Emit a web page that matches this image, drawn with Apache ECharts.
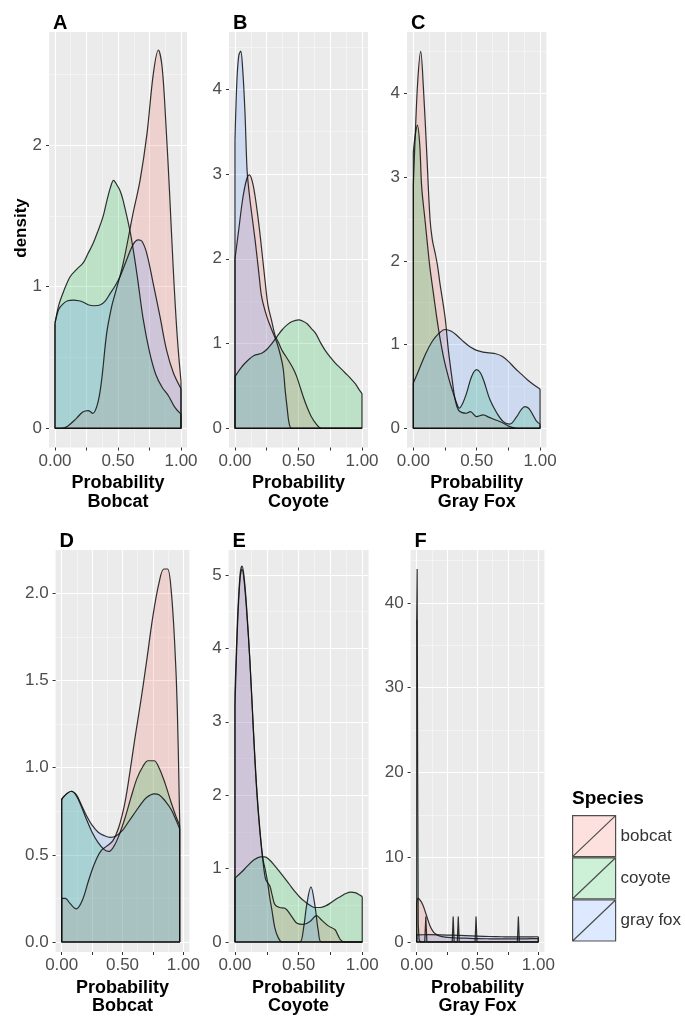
<!DOCTYPE html>
<html>
<head>
<meta charset="utf-8">
<script src="https://cdn.jsdelivr.net/npm/echarts@6/dist/echarts.min.js"></script>
<style>
html,body{margin:0;padding:0;background:#fff;}
#chart{width:685px;height:1032px;}
</style>
</head>
<body>
<div id="chart"></div>
<script>
// ---------- data ----------
const species = ['bobcat', 'coyote', 'gray fox'];

// Panel A : Probability Bobcat
const aBobcat = [[0,0],[0.05,0],[0.1,0.015],[0.17,0.07],[0.22,0.115],[0.265,0.125],[0.3,0.105],[0.34,0.18],[0.37,0.34],[0.41,0.67],[0.45,0.86],[0.48,0.96],[0.54,1.16],[0.62,1.52],[0.675,1.75],[0.73,2.08],[0.78,2.5],[0.82,2.67],[0.85,2.55],[0.88,2.15],[0.91,1.65],[0.94,1.1],[0.97,0.65],[1,0.33]];
const aCoyote = [[0,0.74],[0.03,0.87],[0.07,0.97],[0.12,1.07],[0.17,1.12],[0.225,1.17],[0.26,1.23],[0.3,1.3],[0.34,1.39],[0.38,1.49],[0.41,1.6],[0.44,1.7],[0.465,1.75],[0.49,1.72],[0.515,1.68],[0.54,1.61],[0.6,1.37],[0.65,1.09],[0.7,0.77],[0.75,0.54],[0.8,0.38],[0.85,0.29],[0.9,0.23],[0.95,0.15],[1,0.1]];
const aGrayFox = [[0,0.74],[0.03,0.84],[0.066,0.88],[0.1,0.9],[0.146,0.905],[0.19,0.9],[0.225,0.89],[0.27,0.87],[0.31,0.865],[0.357,0.87],[0.4,0.9],[0.437,0.95],[0.48,1.01],[0.516,1.07],[0.569,1.19],[0.622,1.3],[0.66,1.33],[0.69,1.32],[0.728,1.235],[0.78,1.02],[0.833,0.79],[0.886,0.55],[0.94,0.39],[1,0.28]];

// Panel B : Probability Coyote
const bBobcat = [[0,2.0],[0.03,2.35],[0.06,2.7],[0.09,2.93],[0.113,2.99],[0.135,2.92],[0.157,2.75],[0.18,2.5],[0.2,2.25],[0.236,1.75],[0.26,1.45],[0.29,1.26],[0.315,1.1],[0.34,1.02],[0.37,0.92],[0.4,0.85],[0.433,0.77],[0.46,0.7],[0.486,0.61],[0.51,0.5],[0.538,0.37],[0.57,0.24],[0.6,0.14],[0.64,0.05],[0.68,0],[0.75,0],[0.85,0],[1,0]];
const bCoyote = [[0,0.61],[0.05,0.72],[0.1,0.8],[0.15,0.86],[0.21,0.885],[0.25,0.93],[0.29,1.0],[0.33,1.08],[0.37,1.16],[0.41,1.22],[0.45,1.26],[0.5,1.28],[0.54,1.26],[0.57,1.23],[0.6,1.18],[0.635,1.12],[0.67,1.02],[0.71,0.92],[0.75,0.84],[0.79,0.77],[0.83,0.71],[0.87,0.65],[0.91,0.59],[0.95,0.52],[0.98,0.45],[1,0.41]];
const bGrayFox = [[0,3.4],[0.015,4.1],[0.03,4.4],[0.045,4.45],[0.06,4.25],[0.078,3.75],[0.095,3.05],[0.11,2.8],[0.13,2.55],[0.16,2.2],[0.19,1.8],[0.21,1.55],[0.25,1.32],[0.29,1.16],[0.33,1.01],[0.36,0.85],[0.38,0.7],[0.395,0.45],[0.41,0.25],[0.425,0.07],[0.445,0],[0.5,0],[0.6,0],[0.7,0],[0.8,0],[0.9,0],[1,0]];

// Panel C : Probability Gray Fox
const cBobcat = [[0,2.9],[0.015,3.5],[0.035,4.15],[0.058,4.5],[0.079,4.08],[0.106,3.28],[0.132,2.49],[0.15,2.25],[0.171,2.1],[0.19,1.95],[0.21,1.73],[0.25,1.33],[0.276,0.94],[0.303,0.62],[0.33,0.34],[0.355,0.22],[0.38,0.19],[0.42,0.18],[0.45,0.2],[0.5,0.14],[0.55,0.16],[0.6,0.13],[0.65,0.1],[0.7,0.07],[0.76,0.02],[0.82,0],[0.9,0],[1,0]];
const cCoyote = [[0,3.3],[0.015,3.5],[0.032,3.62],[0.05,3.4],[0.066,2.88],[0.092,2.49],[0.13,1.93],[0.155,1.65],[0.184,1.33],[0.21,1.08],[0.237,0.86],[0.265,0.68],[0.29,0.54],[0.315,0.42],[0.342,0.3],[0.363,0.24],[0.39,0.3],[0.42,0.42],[0.46,0.62],[0.5,0.7],[0.53,0.66],[0.56,0.55],[0.605,0.34],[0.66,0.18],[0.71,0.08],[0.76,0.05],[0.816,0.14],[0.85,0.22],[0.88,0.26],[0.91,0.24],[0.94,0.17],[0.97,0.09],[1,0.05]];
const cGrayFox = [[0,0.54],[0.05,0.72],[0.1,0.9],[0.15,1.04],[0.2,1.13],[0.25,1.18],[0.3,1.16],[0.35,1.1],[0.4,1.03],[0.45,0.97],[0.5,0.93],[0.55,0.91],[0.6,0.9],[0.65,0.89],[0.7,0.86],[0.75,0.8],[0.8,0.72],[0.85,0.65],[0.9,0.58],[0.95,0.52],[1,0.47]];

// Panel D : Probability Bobcat
const dBobcat = [[0,0.25],[0.03,0.25],[0.07,0.22],[0.12,0.19],[0.17,0.24],[0.22,0.35],[0.27,0.45],[0.32,0.52],[0.37,0.55],[0.42,0.58],[0.47,0.66],[0.52,0.8],[0.56,0.97],[0.6,1.16],[0.65,1.38],[0.7,1.62],[0.75,1.87],[0.8,2.06],[0.84,2.14],[0.87,2.14],[0.9,2.02],[0.93,1.7],[0.95,1.35],[0.97,0.7]];
const dCoyote = [[0,0.82],[0.04,0.85],[0.08,0.865],[0.12,0.84],[0.16,0.78],[0.2,0.71],[0.25,0.63],[0.3,0.57],[0.35,0.53],[0.39,0.52],[0.43,0.55],[0.47,0.61],[0.52,0.71],[0.57,0.83],[0.62,0.94],[0.67,1.01],[0.71,1.04],[0.76,1.04],[0.8,1.0],[0.85,0.91],[0.9,0.8],[0.94,0.72],[0.97,0.67]];
const dGrayFox = [[0,0.82],[0.04,0.85],[0.08,0.865],[0.12,0.845],[0.16,0.79],[0.2,0.73],[0.25,0.67],[0.3,0.63],[0.35,0.61],[0.4,0.6],[0.45,0.61],[0.5,0.64],[0.55,0.69],[0.6,0.74],[0.65,0.79],[0.7,0.83],[0.76,0.85],[0.8,0.845],[0.85,0.81],[0.9,0.76],[0.94,0.7],[0.97,0.65]];

// Panel E : Probability Coyote
const eBobcat = [[0,3.2],[0.02,4.3],[0.04,4.95],[0.055,5.08],[0.07,4.95],[0.09,4.55],[0.118,3.8],[0.144,2.9],[0.17,2.08],[0.196,1.5],[0.22,1.1],[0.24,0.86],[0.26,0.8],[0.275,0.76],[0.295,0.62],[0.314,0.51],[0.35,0.47],[0.393,0.46],[0.445,0.35],[0.484,0.26],[0.537,0.24],[0.589,0.28],[0.64,0.36],[0.68,0.3],[0.733,0.22],[0.785,0.17],[0.81,0.09],[0.83,0.03],[0.86,0],[0.93,0],[1,0]];
const eCoyote = [[0,0.87],[0.05,0.95],[0.1,1.04],[0.15,1.12],[0.2,1.16],[0.235,1.16],[0.27,1.12],[0.31,1.045],[0.35,0.96],[0.39,0.87],[0.43,0.78],[0.47,0.69],[0.51,0.61],[0.55,0.55],[0.59,0.5],[0.63,0.47],[0.67,0.47],[0.71,0.49],[0.75,0.53],[0.79,0.58],[0.83,0.62],[0.87,0.66],[0.91,0.68],[0.95,0.67],[0.98,0.64],[1,0.62]];
const eGrayFox = [[0,3.4],[0.02,4.4],[0.04,5.0],[0.055,5.12],[0.07,5.0],[0.09,4.6],[0.118,3.82],[0.144,2.93],[0.17,2.12],[0.196,1.53],[0.22,1.13],[0.24,0.97],[0.256,0.82],[0.272,0.62],[0.288,0.46],[0.314,0.19],[0.34,0.06],[0.37,0],[0.45,0],[0.51,0],[0.54,0.2],[0.563,0.5],[0.597,0.75],[0.628,0.5],[0.655,0.15],[0.68,0],[0.8,0],[1,0]];

// Panel F : Probability Gray Fox
const fBobcat = [[0,4.6],[0.012,5.15],[0.03,4.9],[0.05,4.4],[0.07,3.6],[0.09,2.7],[0.11,1.9],[0.13,1.35],[0.15,1.0],[0.18,0.75],[0.22,0.6],[0.3,0.5],[0.4,0.45],[0.5,0.4],[0.6,0.38],[0.7,0.37],[0.8,0.37],[0.9,0.38],[1,0.4]];
const fCoyote = [[0,38],[0.004,44],[0.008,20],[0.013,2],[0.02,0.3],[0.03,0],[0.066,0],[0.075,3.0],[0.084,0],[0.292,0],[0.3,3.0],[0.308,0],[0.334,0],[0.342,3.0],[0.35,0],[0.48,0],[0.488,3.0],[0.496,0],[0.828,0],[0.836,3.0],[0.844,0],[1,0]];
const fGrayFox = [[0,0.85],[0.1,0.86],[0.2,0.84],[0.3,0.8],[0.4,0.75],[0.5,0.7],[0.6,0.65],[0.7,0.62],[0.8,0.6],[0.9,0.6],[1,0.62]];

// tick values / labels
const xTicks = [0, 0.25, 0.5, 0.75, 1];
const xLabels = [0, 0.5, 1];
const xMinor = [0.125, 0.375, 0.625, 0.875];
const yTicksA = [0, 1, 2];           const yMinorA = [0.5, 1.5, 2.5];
const yTicksB = [0, 1, 2, 3, 4];     const yMinorB = [0.5, 1.5, 2.5, 3.5, 4.5];
const yTicksC = [0, 1, 2, 3, 4];     const yMinorC = [0.5, 1.5, 2.5, 3.5, 4.5];
const yTicksD = [0, 0.5, 1, 1.5, 2]; const yMinorD = [0.25, 0.75, 1.25, 1.75];
const yTicksE = [0, 1, 2, 3, 4, 5];  const yMinorE = [0.5, 1.5, 2.5, 3.5, 4.5];
const yTicksF = [0, 10, 20, 30, 40]; const yMinorF = [5, 15, 25, 35, 45];
const panelLetters = ['A', 'B', 'C', 'D', 'E', 'F'];
const xTitles = ['Probability\nBobcat', 'Probability\nCoyote', 'Probability\nGray Fox',
                 'Probability\nBobcat', 'Probability\nCoyote', 'Probability\nGray Fox'];

// ---------- layout & style ----------
const FONT = "'Liberation Sans', Arial, Helvetica, sans-serif";
const fills = { 'bobcat': 'rgba(248,118,109,0.22)', 'coyote': 'rgba(0,186,56,0.2)', 'gray fox': 'rgba(97,156,255,0.22)' };
const OUTLINE = 'rgba(15,15,15,0.85)';

const panels = [
  { curves: [aBobcat, aCoyote, aGrayFox], yTicks: yTicksA, yMinor: yMinorA, dec: 0,
    grid: { left: 49, top: 32, width: 138, height: 415.5 }, x: [-0.0476, 1.0476], y: [-0.1355, 2.797] },
  { curves: [bBobcat, bCoyote, bGrayFox], yTicks: yTicksB, yMinor: yMinorB, dec: 0,
    grid: { left: 229, top: 32, width: 139, height: 415.5 }, x: [-0.0472, 1.0472], y: [-0.2265, 4.676] },
  { curves: [cBobcat, cCoyote, cGrayFox], yTicks: yTicksC, yMinor: yMinorC, dec: 0,
    grid: { left: 407, top: 32, width: 139.4, height: 415.5 }, x: [-0.05, 1.05], y: [-0.229, 4.732] },
  { curves: [dBobcat, dCoyote, dGrayFox], yTicks: yTicksD, yMinor: yMinorD, dec: 1,
    grid: { left: 55.6, top: 550, width: 133.8, height: 402 }, x: [-0.05, 1.05], y: [-0.0574, 2.249] },
  { curves: [eBobcat, eCoyote, eGrayFox], yTicks: yTicksE, yMinor: yMinorE, dec: 0,
    grid: { left: 228.6, top: 550, width: 140, height: 402 }, x: [-0.05, 1.05], y: [-0.136, 5.34] },
  { curves: [fBobcat, fCoyote, fGrayFox], yTicks: yTicksF, yMinor: yMinorF, dec: 0, sharp: [false, true, false],
    grid: { left: 410.6, top: 550, width: 133.8, height: 402 }, x: [-0.05, 1.05], y: [-1.18, 46.25] }
];

const grids = [], xAxes = [], yAxes = [], series = [], graphics = [];

panels.forEach((p, i) => {
  grids.push(Object.assign({ show: true, backgroundColor: '#EBEBEB', borderWidth: 0 }, p.grid));
  const major = xAxes.length;
  xAxes.push({
    type: 'value', gridIndex: i, min: p.x[0], max: p.x[1], position: 'bottom',
    axisLine: { show: false, onZero: false },
    axisTick: { show: true, customValues: xTicks, length: 3, lineStyle: { color: '#333', width: 1 } },
    axisLabel: { show: true, customValues: xLabels, formatter: v => Number(v).toFixed(2),
                 color: '#4D4D4D', fontSize: 17, fontFamily: FONT, margin: 5 },
    splitLine: { show: true, lineStyle: { color: '#FFFFFF', width: 1.1 } },
    name: xTitles[i], nameLocation: 'middle', nameGap: 26.5,
    nameTextStyle: { fontSize: 18, fontWeight: 'bold', color: '#000', fontFamily: FONT, lineHeight: 18.5, verticalAlign: 'top' }
  });
  xAxes.push({
    type: 'value', gridIndex: i, min: p.x[0], max: p.x[1], position: 'top',
    axisLine: { show: false, onZero: false }, axisLabel: { show: false },
    axisTick: { show: false, customValues: xMinor },
    splitLine: { show: true, lineStyle: { color: '#FFFFFF', width: 0.5, opacity: 0.8 } }
  });
  const ymajor = yAxes.length;
  yAxes.push({
    type: 'value', gridIndex: i, min: p.y[0], max: p.y[1], position: 'left',
    axisLine: { show: false, onZero: false },
    axisTick: { show: true, customValues: p.yTicks, length: 3, lineStyle: { color: '#333', width: 1 } },
    axisLabel: { show: true, customValues: p.yTicks, formatter: v => Number(v).toFixed(p.dec),
                 color: '#4D4D4D', fontSize: 17, fontFamily: FONT, margin: 7 },
    splitLine: { show: true, lineStyle: { color: '#FFFFFF', width: 1.1 } }
  });
  yAxes.push({
    type: 'value', gridIndex: i, min: p.y[0], max: p.y[1], position: 'right',
    axisLine: { show: false, onZero: false }, axisLabel: { show: false },
    axisTick: { show: false, customValues: p.yMinor },
    splitLine: { show: true, lineStyle: { color: '#FFFFFF', width: 0.5, opacity: 0.8 } }
  });

  p.curves.forEach((c, k) => {
    const sp = species[k];
    const sharp = p.sharp && p.sharp[k];
    series.push({
      type: 'line', name: sp, xAxisIndex: major, yAxisIndex: ymajor,
      data: c, smooth: sharp ? false : 0.35, symbol: 'none', silent: true, animation: false,
      lineStyle: { color: OUTLINE, width: 1.2 },
      itemStyle: { color: fills[sp] },
      areaStyle: { color: fills[sp], opacity: 1 },
      z: 3
    });
    const first = c[0], last = c[c.length - 1];
    series.push({
      type: 'line', name: sp + ' outline', xAxisIndex: major, yAxisIndex: ymajor,
      data: [[first[0], first[1]], [first[0], 0], [last[0], 0], [last[0], last[1]]],
      smooth: false, symbol: 'none', silent: true, animation: false,
      lineStyle: { color: OUTLINE, width: 1.2 }, z: 4
    });
  });

  graphics.push({
    type: 'text', left: p.grid.left + 4, top: p.grid.top - 19,
    style: { text: panelLetters[i], font: 'bold 20px ' + FONT, fill: '#000' }
  });
});

graphics.push({
  type: 'text', x: 21, y: 228, rotation: Math.PI / 2,
  style: { text: 'density', font: 'bold 17px ' + FONT, fill: '#000', textAlign: 'center', textVerticalAlign: 'middle' }
});
graphics.push({
  type: 'text', left: 572, top: 789,
  style: { text: 'Species', font: 'bold 19px ' + FONT, fill: '#000' }
});

const chart = echarts.init(document.getElementById('chart'), null, { renderer: 'canvas' });
chart.setOption({
  animation: false,
  backgroundColor: '#FFFFFF',
  grid: grids,
  xAxis: xAxes,
  yAxis: yAxes,
  series: series,
  graphic: graphics,
  legend: {
    orient: 'vertical', left: 572, top: 815, padding: 0, itemWidth: 43, itemHeight: 41.5, itemGap: 0,
    selectedMode: false,
    icon: 'path://M0,0L43,0L43,41L0,41ZM0,41L43,0',
    textStyle: { fontSize: 17, color: '#333', fontFamily: FONT },
    data: species.map(s => ({ name: s, itemStyle: { color: fills[s], borderColor: 'rgba(60,60,60,0.9)', borderWidth: 1.2 } }))
  }
});
</script>
</body>
</html>
